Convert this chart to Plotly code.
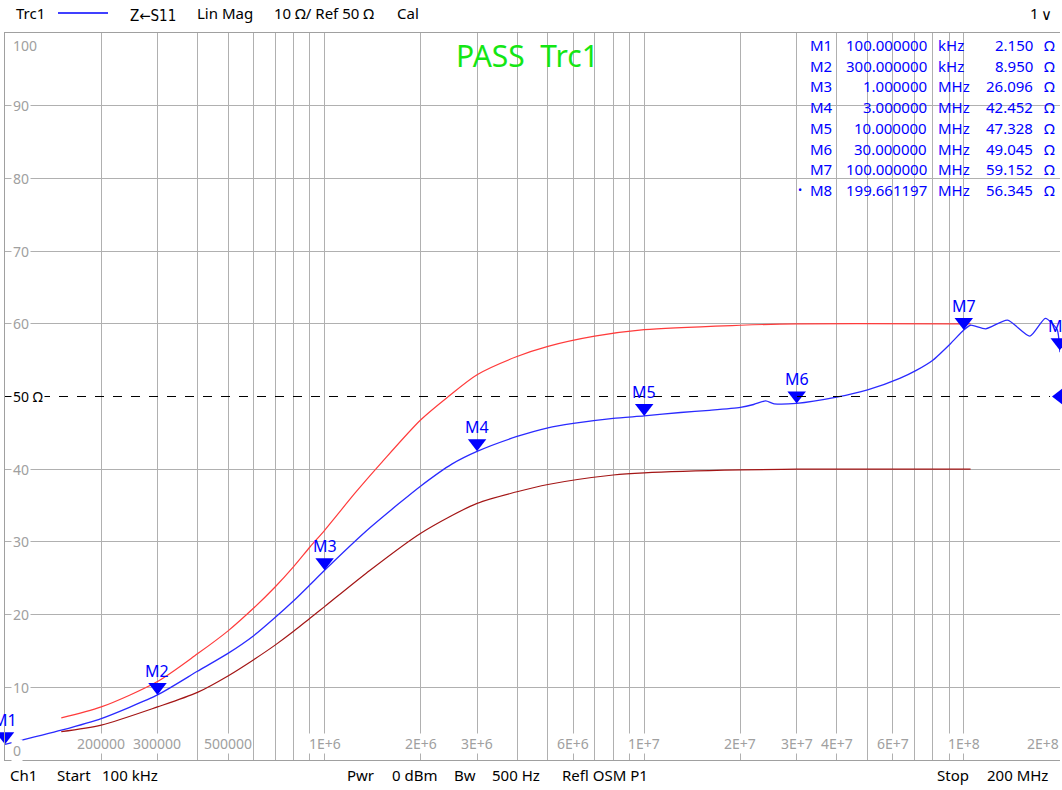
import math
import plotly.graph_objects as go

# ---------------- data ----------------
trace_freq = [1e5, 1.5e5, 2e5, 3e5, 4e5, 5e5, 6e5, 7e5, 8e5, 9e5, 1e6, 1.35e6, 1.7e6, 2e6, 2.5e6,
              3e6, 4e6, 5e6, 6e6, 8e6, 1e7, 1.3e7, 1.6e7, 2e7, 2.2e7, 2.4e7, 2.55e7, 3e7, 4e7,
              5e7, 6.3e7, 7.1e7, 8e7, 9.1e7, 1e8, 1.05e8, 1.17e8, 1.37e8, 1.61e8, 1.8e8, 1.96e8,
              1.99661197e8, 2e8]
trace_z = [2.15, 4.1, 5.7, 8.95, 12.2, 14.7, 17.1, 19.6, 21.9, 24.1, 26.096, 31.5, 35.2, 37.7, 40.7,
           42.452, 44.5, 45.7, 46.3, 47.0, 47.328, 47.8, 48.1, 48.5, 48.9, 49.4, 49.0, 49.045, 49.9,
           50.9, 52.5, 53.6, 55.0, 57.3, 59.152, 59.8, 59.3, 60.5, 58.3, 60.75, 59.2,
           56.345, 56.1]

upper_freq = [1.5e5, 2e5, 3e5, 4e5, 5e5, 6e5, 7e5, 8e5, 9e5, 1e6, 1.25e6, 1.5e6, 2e6, 2.44e6, 3e6,
              4e6, 5e6, 7e6, 1e7, 2e7, 3e7, 1.05e8]
upper_z = [5.8, 7.3, 10.8, 14.6, 17.8, 20.9, 23.8, 26.6, 29.3, 31.6, 36.8, 40.8, 46.8, 50.0, 53.0,
           55.5, 56.9, 58.3, 59.2, 59.8, 60.0, 60.0]

lower_freq = [1.5e5, 2e5, 3e5, 4e5, 5e5, 6e5, 7e5, 8e5, 9e5, 1e6, 1.35e6, 2e6, 3e6, 4e6, 5e6,
              8e6, 1e7, 2e7, 3e7, 1.05e8]
lower_z = [3.9, 4.8, 7.3, 9.3, 11.6, 13.8, 15.8, 17.7, 19.5, 21.1, 25.7, 31.2, 35.3, 36.9, 37.9,
           39.2, 39.5, 39.9, 40.0, 40.0]

marker_names = ["M1", "M2", "M3", "M4", "M5", "M6", "M7", "M8"]
marker_freq = [100e3, 300e3, 1e6, 3e6, 10e6, 30e6, 100e6, 199.661197e6]
marker_z = [2.150, 8.950, 26.096, 42.452, 47.328, 49.045, 59.152, 56.345]

x_tick_vals = [2e5, 3e5, 5e5, 1e6, 2e6, 3e6, 6e6, 1e7, 2e7, 3e7, 4e7, 6e7, 1e8, 2e8]
x_tick_text = ["200000", "300000", "500000", "1E+6", "2E+6", "3E+6", "6E+6", "1E+7", "2E+7",
               "3E+7", "4E+7", "6E+7", "1E+8", "2E+8"]
y_tick_vals = [0, 10, 20, 30, 40, 50, 60, 70, 80, 90, 100]
y_tick_text = ["0", "10", "20", "30", "40", "50 Ω", "60", "70", "80", "90", "100"]

ref_level = 50

# ---------------- layout helpers ----------------
W, H = 1062, 790
L, R, T, B = 5, 2, 33, 30
PW, PH = W - L - R, H - T - B
FONT = "Noto Sans"
GRAY = "#a0a0a0"
GRID = "#b0b0b0"
BLUE = "#0000ff"


def px(x):
    return (x - L) / PW


def py(y):
    return (H - B - y) / PH


fig = go.Figure()

fig.add_trace(go.Scatter(x=upper_freq, y=upper_z, mode="lines",
                         line=dict(color="#ff3b3b", width=1.2, shape="spline", smoothing=0.8),
                         hoverinfo="skip"))
fig.add_trace(go.Scatter(x=lower_freq, y=lower_z, mode="lines",
                         line=dict(color="#a31515", width=1.2, shape="spline", smoothing=0.8),
                         hoverinfo="skip"))
fig.add_trace(go.Scatter(x=trace_freq, y=trace_z, mode="lines",
                         line=dict(color="#2a2aff", width=1.3, shape="spline", smoothing=0.6),
                         hoverinfo="skip"))
fig.add_trace(go.Scatter(x=marker_freq, y=marker_z, mode="markers", cliponaxis=False,
                         marker=dict(symbol="triangle-up", angle=180, size=16, standoff=8,
                                     color=BLUE, line=dict(width=0)),
                         hoverinfo="skip"))
# reference level marker at right edge
fig.add_trace(go.Scatter(x=[trace_freq[-1]], y=[ref_level], mode="markers", cliponaxis=False,
                         marker=dict(symbol="triangle-left", size=16, color=BLUE,
                                     line=dict(width=0)),
                         hoverinfo="skip"))

grid_vals = [m * 10 ** e for e in range(5, 9) for m in range(1, 10) if 1e5 <= m * 10 ** e <= 2e8]

fig.update_xaxes(type="log", range=[5, math.log10(2e8)], tickvals=grid_vals,
                 showticklabels=False, ticks="", showgrid=True, gridcolor=GRID, gridwidth=1,
                 showline=True, linecolor=GRAY, linewidth=1, mirror=True, zeroline=False)
fig.update_yaxes(range=[0, 100], tickvals=[v for v in y_tick_vals if v not in (0, 50, 100)],
                 showticklabels=False, ticks="", showgrid=True, gridcolor=GRID, gridwidth=1,
                 showline=True, linecolor=GRAY, linewidth=1, zeroline=False)

shapes = [
    dict(type="line", xref="paper", yref="y", x0=0, x1=px(1050), y0=ref_level, y1=ref_level,
         line=dict(color="black", width=1, dash="dash")),
    dict(type="line", xref="paper", yref="paper", x0=px(58), x1=px(108), y0=py(13), y1=py(13),
         line=dict(color=BLUE, width=1.5)),
]

ann = []
# x tick labels
for v, t in zip(x_tick_vals, x_tick_text):
    last = v == x_tick_vals[-1]
    ann.append(dict(x=math.log10(v), y=0, xref="x", yref="y", text=t, showarrow=False,
                    xanchor="right" if last else "center", yanchor="bottom", yshift=6,
                    xshift=0, bgcolor="white", borderpad=0,
                    font=dict(family=FONT, size=14, color=GRAY)))
# y tick labels
for v, t in zip(y_tick_vals, y_tick_text):
    if v == 100:
        ya, ys = "top", -1
    elif v == 0:
        ya, ys = "bottom", -2
    else:
        ya, ys = "middle", 0
    ann.append(dict(x=0, y=v, xref="paper", yref="y", text=t, showarrow=False,
                    xanchor="left", yanchor=ya, xshift=6, yshift=ys,
                    bgcolor="white", borderpad=1,
                    font=dict(family=FONT, size=14, color="black" if v == ref_level else GRAY)))
# marker labels
for n, f, z in zip(marker_names, marker_freq, marker_z):
    ann.append(dict(x=math.log10(f), y=z, xref="x", yref="y", text=n, showarrow=False,
                    xanchor="center", yanchor="bottom", yshift=11,
                    font=dict(family=FONT, size=16, color=BLUE)))

# marker table
for i, (n, f, z) in enumerate(zip(marker_names, marker_freq, marker_z)):
    yy = py(45 + 20.7 * i)
    if f < 1e6:
        fs, unit = f"{f / 1e3:.6f}", "kHz"
    else:
        fs, unit = f"{f / 1e6:.6f}", "MHz"
    tf = dict(family=FONT, size=15, color=BLUE)
    ann.append(dict(x=px(808), y=yy, xref="paper", yref="paper", text=n, showarrow=False,
                    xanchor="left", yanchor="middle", font=tf))
    ann.append(dict(x=px(929), y=yy, xref="paper", yref="paper", text=fs, showarrow=False,
                    xanchor="right", yanchor="middle", font=tf))
    ann.append(dict(x=px(936), y=yy, xref="paper", yref="paper", text=unit, showarrow=False,
                    xanchor="left", yanchor="middle", font=tf))
    ann.append(dict(x=px(1035), y=yy, xref="paper", yref="paper", text=f"{z:.3f}",
                    showarrow=False, xanchor="right", yanchor="middle", font=tf))
    ann.append(dict(x=px(1042), y=yy, xref="paper", yref="paper", text="Ω", showarrow=False,
                    xanchor="left", yanchor="middle", font=tf))
    if i == len(marker_names) - 1:
        ann.append(dict(x=px(800), y=yy, xref="paper", yref="paper", text="•", showarrow=False,
                        xanchor="center", yanchor="middle", font=dict(family=FONT, size=11, color=BLUE)))

# PASS text
ann.append(dict(x=px(527), y=py(55), xref="paper", yref="paper", text="PASS  Trc1",
                showarrow=False, xanchor="center", yanchor="middle",
                font=dict(family=FONT, size=30, color="#14e614")))

# header / footer
hdr = [(14, "Trc1", FONT, 0), (128, "Z←S11", "DejaVu Sans Condensed, DejaVu Sans", -3),
       (195, "Lin Mag", FONT, 0), (272, "10 Ω/ Ref 50 Ω", FONT, 0), (395, "Cal", FONT, 0),
       (1028, "1", FONT, 0), (1039, "∨", "DejaVu Sans", -2)]
for x0, t, fam, ys in hdr:
    ann.append(dict(x=px(x0), y=py(13), xref="paper", yref="paper", text=t, showarrow=False,
                    xanchor="left", yanchor="middle", yshift=ys,
                    font=dict(family=fam, size=15, color="black")))
ftr = [(8, "Ch1"), (55, "Start"), (100, "100 kHz"), (345, "Pwr"), (390, "0 dBm"), (452, "Bw"),
       (490, "500 Hz"), (560, "Refl OSM P1"), (935, "Stop"), (985, "200 MHz")]
for x0, t in ftr:
    ann.append(dict(x=px(x0), y=py(775), xref="paper", yref="paper", text=t, showarrow=False,
                    xanchor="left", yanchor="middle", font=dict(family=FONT, size=15, color="black")))

fig.update_layout(width=W, height=H, margin=dict(l=L, r=R, t=T, b=B),
                  paper_bgcolor="white", plot_bgcolor="white", showlegend=False,
                  shapes=shapes, annotations=ann, font=dict(family=FONT))

fig.write_html("out.html", config={"displayModeBar": False},
               post_script="document.body.style.margin='0';document.body.style.overflow='hidden';")
